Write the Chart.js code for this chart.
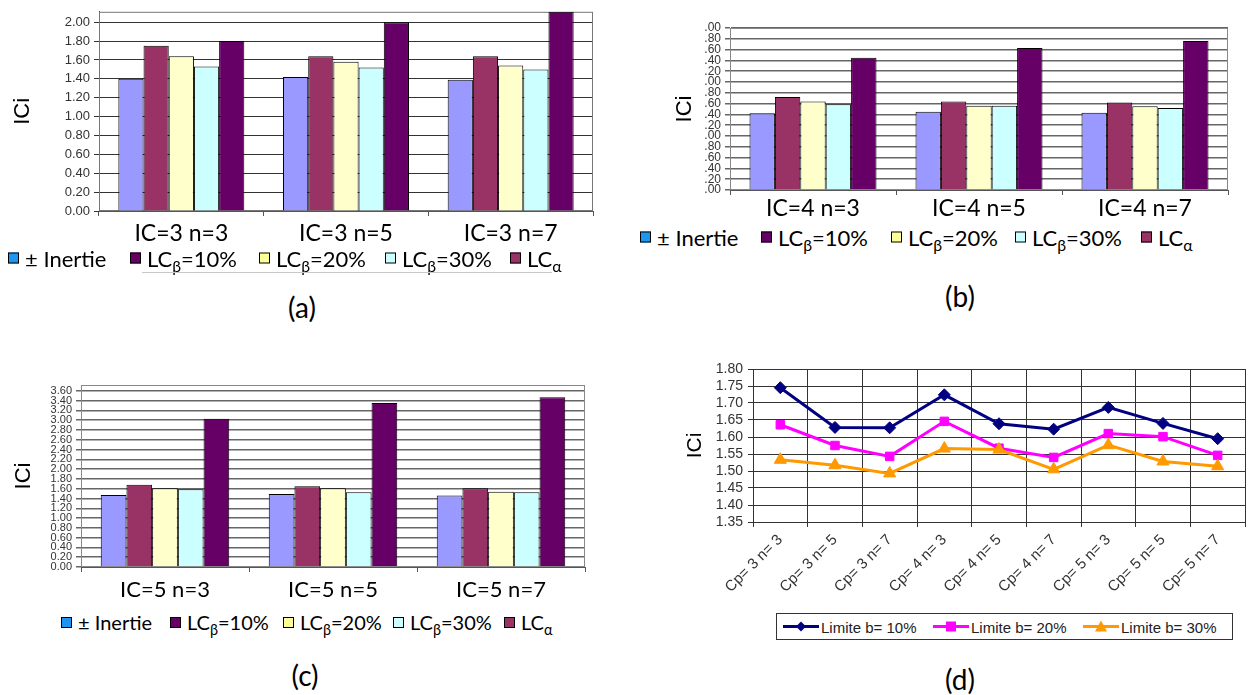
<!DOCTYPE html>
<html>
<head>
<meta charset="utf-8">
<script src="https://cdn.jsdelivr.net/npm/chart.js@4.4.1/dist/chart.umd.min.js"></script>
<style>
  body { margin: 0; width: 1253px; height: 695px; background: #fff; position: relative; overflow: hidden; font-family: Lato, "Open Sans", sans-serif; }
  canvas { position: absolute; }
  .lg { position: absolute; display: flex; align-items: center; white-space: nowrap; color: #000; transform: translateY(-50%); }
  .lg .sw { width: 9px; height: 9px; border: 1px solid #000; margin-right: 6px; flex: none; }
  .lg sub { font-size: 0.72em; vertical-align: -0.35em; line-height: 0; }
  .cap { position: absolute; font-size: 28px; transform: translate(-50%, -50%); color: #000; }
  #legD { position: absolute; border: 1px solid #333; background: #fff; font-family: "Liberation Sans", Arial, sans-serif; font-size: 15px; color: #222; }
  #legD .it { position: absolute; top: 50%; transform: translateY(-50%); display: flex; align-items: center; white-space: nowrap; }
</style>
</head>
<body>
<canvas id="ca" width="610" height="245" style="left:0;top:0"></canvas>
<canvas id="cb" width="620" height="222" style="left:620px;top:0"></canvas>
<canvas id="cc" width="610" height="273" style="left:0;top:330px"></canvas>
<canvas id="cd" width="613" height="270" style="left:640px;top:340px"></canvas>
<div id="legends"></div>
<div id="legD" style="left:776px;top:613px;width:455px;height:25px"></div>
<div style="position:absolute;left:142px;top:272px;width:410px;height:1px;background:#c8c8c8"></div>
<div class="cap" style="left:302px;top:307px">(a)</div>
<div class="cap" style="left:960px;top:296px">(b)</div>
<div class="cap" style="left:305px;top:675px">(c)</div>
<div class="cap" style="left:960px;top:679px">(d)</div>

<script>
// series names of the bar charts (legend text; the part after "_" is a subscript)
const barSeries = ["± Inertie", "LC_β=10%", "LC_β=20%", "LC_β=30%", "LC_α"];
const barFill = ["#9999FF", "#993366", "#FFFFCC", "#CCFFFF", "#660066"];
const legendFill = ["#1E96F0", "#660066", "#FFFF99", "#CCFFFF", "#993366"];

// (a)
const catsA = ["IC=3 n=3", "IC=3 n=5", "IC=3 n=7"];
const inertieA = [1.40, 1.42, 1.39];
const beta10A = [1.75, 1.64, 1.64];
const beta20A = [1.64, 1.58, 1.54];
const beta30A = [1.53, 1.52, 1.50];
const alphaA = [1.80, 2.00, 2.11];

// (b)
const catsB = ["IC=4 n=3", "IC=4 n=5", "IC=4 n=7"];
const inertieB = [1.42, 1.45, 1.43];
const beta10B = [1.72, 1.64, 1.62];
const beta20B = [1.64, 1.56, 1.55];
const beta30B = [1.59, 1.56, 1.52];
const alphaB = [2.45, 2.63, 2.76];

// (c)
const catsC = ["IC=5 n=3", "IC=5 n=5", "IC=5 n=7"];
const inertieC = [1.47, 1.49, 1.46];
const beta10C = [1.68, 1.65, 1.61];
const beta20C = [1.61, 1.61, 1.54];
const beta30C = [1.59, 1.53, 1.53];
const alphaC = [3.03, 3.35, 3.47];

// (d)
const catsD = ["Cp= 3 n= 3", "Cp= 3 n= 5", "Cp= 3 n= 7", "Cp= 4 n= 3", "Cp= 4 n= 5",
               "Cp= 4 n= 7", "Cp= 5 n= 3", "Cp= 5 n= 5", "Cp= 5 n= 7"];
const lineSeries = ["Limite b= 10%", "Limite b= 20%", "Limite b= 30%"];
const lim10 = [1.745, 1.628, 1.627, 1.724, 1.639, 1.623, 1.687, 1.640, 1.595];
const lim20 = [1.636, 1.575, 1.543, 1.646, 1.567, 1.540, 1.610, 1.601, 1.546];
const lim30 = [1.533, 1.517, 1.493, 1.566, 1.563, 1.505, 1.576, 1.528, 1.514];
const lineColors = ["#000080", "#FF00FF", "#FF9900"];
const lineMarkers = ["rectRot", "rect", "triangle"];

const framePlugin = {
  id: "frame",
  beforeDatasetsDraw(chart, args, opts) {
    const { ctx, chartArea: a } = chart;
    ctx.save();
    ctx.strokeStyle = opts.color || "#777";
    ctx.lineWidth = 1;
    ctx.strokeRect(a.left + 0.5, a.top + 0.5, a.right - a.left - 1, a.bottom - a.top - 1);
    ctx.restore();
  }
};

function barChart(id, cats, values, o) {
  return new Chart(document.getElementById(id), {
    type: "bar",
    data: {
      labels: cats,
      datasets: values.map((v, i) => ({
        label: barSeries[i].replace("_", ""),
        data: v,
        backgroundColor: barFill[i],
        borderColor: "#000",
        borderWidth: 1,
        categoryPercentage: 0.765,
        barPercentage: 1.0
      }))
    },
    options: {
      responsive: false,
      animation: false,
      layout: { padding: { top: o.padTop, right: o.padRight, left: 0, bottom: 0 } },
      plugins: { legend: { display: false }, tooltip: { enabled: false }, frame: { color: o.frame } },
      scales: {
        x: {
          grid: { display: true, drawOnChartArea: false, drawTicks: true, tickLength: 5, color: "#555" },
          border: { color: "#555" },
          ticks: { font: { family: "Lato", size: o.catSize }, color: "#000", padding: o.catPad, maxRotation: 0 },
          afterFit: (s) => { s.height = o.xH; }
        },
        y: {
          min: 0,
          max: o.max,
          grid: { color: o.grid, lineWidth: o.gridW, tickLength: 5 },
          border: { color: "#555" },
          ticks: {
            stepSize: 0.2,
            autoSkip: false,
            padding: 4,
            font: { family: "Liberation Sans", size: o.tickSize },
            color: "#333",
            callback: o.fmt
          },
          // keep only the 0.2 steps, never the odd axis maximum
          afterBuildTicks: (s) => {
            const t = [];
            for (let k = 0; k * 0.2 <= s.max + 1e-9; k++) t.push({ value: +(k * 0.2).toFixed(2) });
            s.ticks = t;
          },
          title: {
            display: true, text: "ICi", color: "#000",
            font: { family: "Liberation Sans", size: 22 },
            padding: { top: o.titlePad, bottom: 0 }
          },
          afterFit: (s) => { s.width = o.yW; }
        }
      }
    },
    plugins: [framePlugin]
  });
}

const fmt2 = (v) => v.toFixed(2);
const fmtCut = (v) => v.toFixed(2).replace(/^\d/, "");

barChart("ca", catsA, [inertieA, beta10A, beta20A, beta30A, alphaA],
  { max: 2.11, padTop: 6, padRight: 17, xH: 34, yW: 99, catSize: 23, catPad: 4, tickSize: 13, titlePad: 10, grid: "#333", gridW: 1, frame: "#777", fmt: fmt2 });
barChart("cb", catsB, [inertieB, beta10B, beta20B, beta30B, alphaB],
  { max: 3.0, padTop: 28, padRight: 12, xH: 32, yW: 110, catSize: 23, catPad: 0, tickSize: 12, titlePad: 52, grid: "#666", gridW: 1.5, frame: "#888", fmt: fmtCut });
barChart("cc", catsC, [inertieC, beta10C, beta20C, beta30C, alphaC],
  { max: 3.72, padTop: 55, padRight: 25, xH: 36, yW: 81, catSize: 22, catPad: 5, tickSize: 11, titlePad: 11, grid: "#666", gridW: 1.5, frame: "#888", fmt: fmt2 });

new Chart(document.getElementById("cd"), {
  type: "line",
  data: {
    labels: catsD,
    datasets: [lim10, lim20, lim30].map((v, i) => ({
      label: lineSeries[i],
      data: v,
      borderColor: lineColors[i],
      backgroundColor: lineColors[i],
      borderWidth: 3,
      pointStyle: lineMarkers[i],
      pointRadius: i === 2 ? 7 : 6,
      pointBorderWidth: 1,
      tension: 0,
      order: 2 - i
    }))
  },
  options: {
    responsive: false,
    animation: false,
    layout: { padding: { top: 29, right: 0, left: 0, bottom: 0 } },
    plugins: { legend: { display: false }, tooltip: { enabled: false } },
    scales: {
      x: {
        offset: true,
        grid: { offset: true, color: "#333", tickLength: 5 },
        border: { color: "#333" },
        ticks: { minRotation: 45, maxRotation: 45, autoSkip: false, padding: 4, font: { family: "Liberation Sans", size: 15 }, color: "#333" },
        afterFit: (s) => { s.height = 88; }
      },
      y: {
        min: 1.35,
        max: 1.80,
        grid: { color: "#333", tickLength: 5 },
        border: { color: "#333" },
        ticks: { stepSize: 0.05, autoSkip: false, padding: 5, font: { family: "Liberation Sans", size: 14 }, color: "#333", callback: fmt2 },
        title: { display: true, text: "ICi", color: "#000", font: { family: "Liberation Sans", size: 21 }, padding: { top: 43, bottom: 0 } },
        afterFit: (s) => { s.width = 113; }
      }
    }
  }
});

// HTML legends of the bar charts (subscripts need real markup)
const legendLayout = [
  { x: [8, 130, 259, 385, 510], y: 258, size: 22 },
  { x: [640, 761, 891, 1015, 1141], y: 237, size: 22 },
  { x: [61, 170, 283, 393, 504], y: 622, size: 20 }
];
const legendsEl = document.getElementById("legends");
legendLayout.forEach((L) => {
  barSeries.forEach((name, i) => {
    const it = document.createElement("div");
    it.className = "lg";
    it.style.left = L.x[i] + "px";
    it.style.top = L.y + "px";
    it.style.fontSize = L.size + "px";
    const sw = document.createElement("span");
    sw.className = "sw";
    sw.style.background = legendFill[i];
    const tx = document.createElement("span");
    const parts = name.split("_");
    tx.textContent = parts[0];
    if (parts[1]) {
      const sub = document.createElement("sub");
      sub.textContent = parts[1][0];
      tx.appendChild(sub);
      tx.appendChild(document.createTextNode(parts[1].slice(1)));
    }
    it.appendChild(sw);
    it.appendChild(tx);
    legendsEl.appendChild(it);
  });
});

// legend of (d): line sample with marker
const legD = document.getElementById("legD");
const legDx = [6, 156, 306];
lineSeries.forEach((name, i) => {
  const it = document.createElement("div");
  it.className = "it";
  it.style.left = legDx[i] + "px";
  const c = lineColors[i];
  let mk = "";
  if (i === 0) mk = `<polygon points="18,2 23,7 18,12 13,7" fill="${c}"/>`;
  if (i === 1) mk = `<rect x="13" y="2" width="10" height="10" fill="${c}"/>`;
  if (i === 2) mk = `<polygon points="18,1 24,12 12,12" fill="${c}"/>`;
  it.innerHTML = `<svg width="36" height="14"><line x1="0" y1="7" x2="36" y2="7" stroke="${c}" stroke-width="3"/>${mk}</svg><span style="margin-left:2px">${name}</span>`;
  legD.appendChild(it);
});
</script>
</body>
</html>
